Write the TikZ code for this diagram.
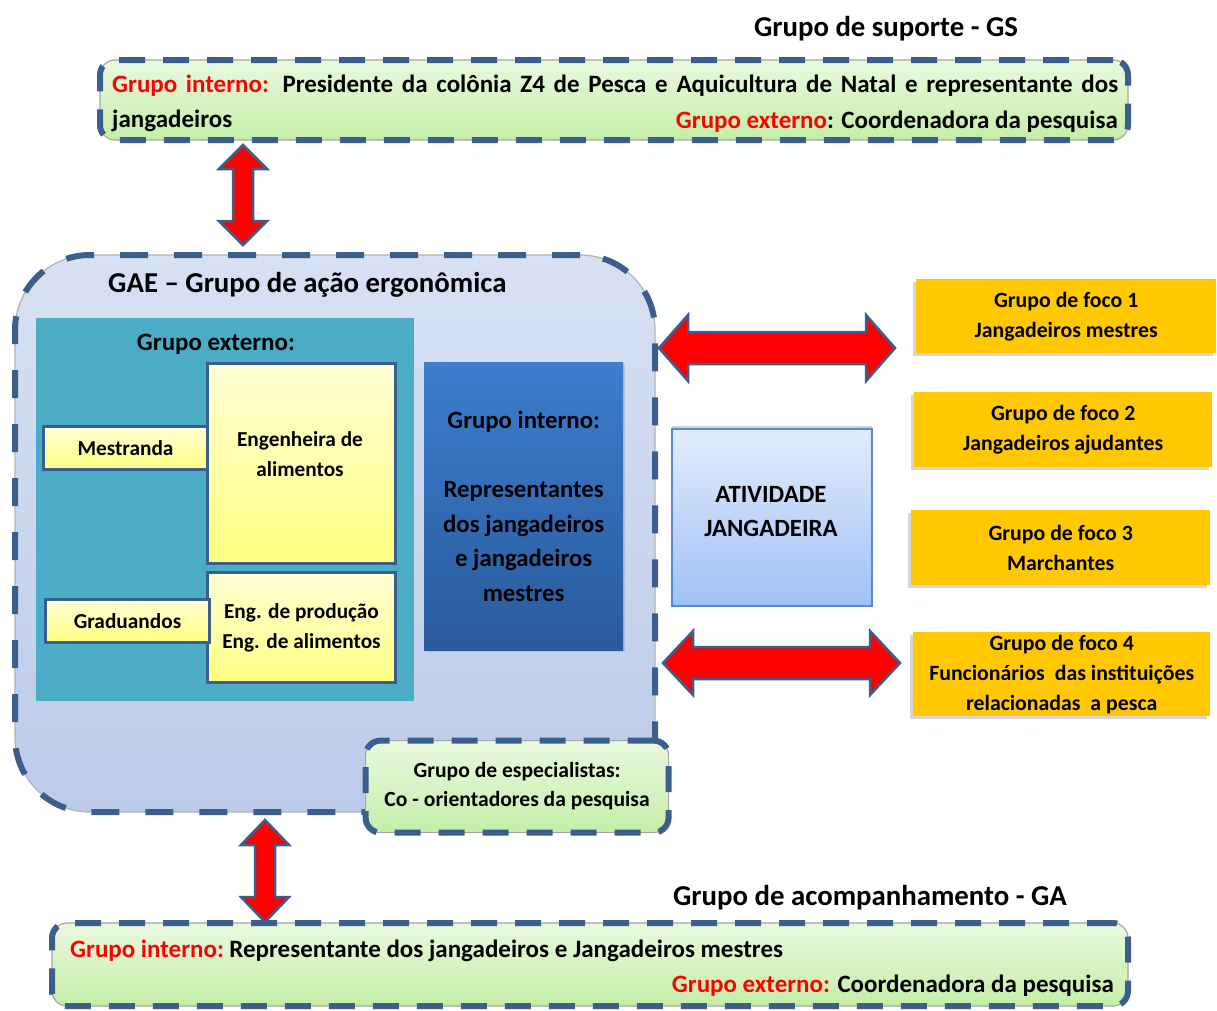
\documentclass[tikz,border=0pt]{standalone}
\usepackage{fontspec}
\setmainfont{Carlito}
\usetikzlibrary{shadows}
\definecolor{bdr}{RGB}{59,94,140}
\definecolor{grnT}{RGB}{234,249,222}
\definecolor{grnB}{RGB}{196,238,168}
\definecolor{gaeT}{RGB}{216,225,243}
\definecolor{gaeB}{RGB}{188,203,234}
\definecolor{tealbg}{RGB}{75,172,198}
\definecolor{ylwT}{RGB}{255,255,214}
\definecolor{ylwB}{RGB}{255,255,128}
\definecolor{bluT}{RGB}{58,126,206}
\definecolor{bluB}{RGB}{42,90,156}
\definecolor{atvT}{RGB}{226,236,252}
\definecolor{atvB}{RGB}{160,193,246}
\definecolor{atvD}{RGB}{88,138,210}
\definecolor{gold}{RGB}{255,200,0}
\definecolor{arrred}{RGB}{255,0,0}
\begin{document}
\begin{tikzpicture}[x=1pt,y=-1pt,
  dashbox/.style={draw=black!35, line width=1.2pt,
    postaction={draw=bdr, line width=6pt, dash pattern=on 26pt off 18pt}},
  gbox/.style={dashbox, top color=grnT, bottom color=grnB, inner sep=0pt},
  gaebox/.style={draw=black!30, line width=1.2pt, top color=gaeT, bottom color=gaeB,
    postaction={draw=bdr, line width=6pt, dash pattern=on 28pt off 26pt}, inner sep=0pt},
  ybox/.style={draw=bdr, line width=3pt, top color=ylwT, bottom color=ylwB,
    anchor=north west, inner sep=0pt, align=center,
    font=\bfseries\fontsize{21.3}{30}\selectfont},
  fbox/.style={fill=gold, anchor=north west, inner sep=0pt, align=center,
    drop shadow={shadow xshift=-3pt, shadow yshift=-3pt, fill=black!40, opacity=.4},
    font=\bfseries\fontsize{21.8}{30}\selectfont},
  txt/.style={inner sep=0pt, font=\bfseries\fontsize{25}{28}\selectfont},
  ttl/.style={inner sep=0pt, anchor=base, font=\bfseries\fontsize{28.8}{32}\selectfont},
  redarrow/.style={fill=arrred, draw=bdr, line width=2.5pt, line join=miter}
]
\useasboundingbox (0,0) rectangle (1217,1010);

% ---------- Grupo de suporte ----------
\node[ttl] (gst) at (886,36) {Grupo de suporte - GS};
\node[gbox, minimum width=1028pt, minimum height=80pt, rounded corners=15pt] (gs) at (614,100) {};
\node[txt, anchor=base west] (gs1) at (112,92)
  {\makebox[1006pt][s]{\textcolor{red}{Grupo interno:} Presidente da colônia Z4 de Pesca e Aquicultura de Natal e representante dos}};
\node[txt, anchor=base west] (gs2) at (112,127) {jangadeiros};
\node[txt, anchor=base east] (gs3) at (1118,128) {\textcolor{red}{Grupo externo}: Coordenadora da pesquisa};

% ---------- Grupo de acompanhamento ----------
\node[ttl] (gat) at (870,905) {Grupo de acompanhamento - GA};
\node[gbox, minimum width=1076pt, minimum height=83pt, rounded corners=15pt] (ga) at (590,964.5) {};
\node[txt, anchor=base west] (ga1) at (70,957) {\textcolor{red}{Grupo interno:}\hspace{-2pt} Representante dos jangadeiros e Jangadeiros mestres};
\node[txt, anchor=base east] (ga2) at (1114,992) {\textcolor{red}{Grupo externo:} Coordenadora da pesquisa};

% ---------- GAE ----------
\node[gaebox, minimum width=640pt, minimum height=557pt, rounded corners=75pt] (gae) at (335,533.5) {};
\node[ttl, anchor=base west] (gaet) at (108,292) {GAE – Grupo de ação ergonômica};

\node[fill=tealbg, anchor=north west, inner sep=0pt, minimum width=378pt, minimum height=383pt] (ext) at (36,318) {};
\node[txt, anchor=base] (extt) at (216,350) {Grupo externo:};

\node[ybox, minimum width=188pt, minimum height=200pt] (eng) at (206,362) {};
\node[inner sep=0pt, align=center, font=\bfseries\fontsize{21.3}{30}\selectfont] (engt) at (300,454) {Engenheira de\\alimentos};
\node[ybox, minimum width=188pt, minimum height=110pt] (prod) at (206,571) {Eng. de produção\\Eng. de alimentos};
\node[ybox, minimum width=164pt, minimum height=43pt] (mest) at (42,425) {Mestranda};
\node[ybox, minimum width=164pt, minimum height=43pt] (grad) at (44,598) {Graduandos};

\node[anchor=north west, inner sep=0pt, minimum width=199pt, minimum height=288pt,
  top color=bluT, bottom color=bluB, align=center,
  drop shadow={shadow xshift=2pt, shadow yshift=-2pt, fill=black!40, opacity=.4},
  font=\bfseries\fontsize{24.8}{34.5}\selectfont] (gi) at (424,362)
  {Grupo interno:\\ \\Representantes\\dos jangadeiros\\e jangadeiros\\mestres};

% ---------- Especialistas ----------
\node[gbox, anchor=north west, minimum width=303pt, minimum height=92pt, rounded corners=15pt,
  align=center, font=\bfseries\fontsize{21.6}{29}\selectfont] (esp) at (365,740)
  {Grupo de especialistas:\\Co - orientadores da pesquisa};

% ---------- Atividade ----------
\node[anchor=north west, inner sep=0pt, minimum width=200pt, minimum height=177pt,
  top color=atvT, bottom color=atvB, draw=atvD, line width=1.5pt,
  drop shadow={shadow xshift=0pt, shadow yshift=3pt, fill=black!50, opacity=.35}] (atv) at (671,428) {};
\node[inner sep=0pt, align=center, font=\bfseries\fontsize{24.8}{34}\selectfont] (atvt) at (771,512)
  {ATIVIDADE\\JANGADEIRA};

% ---------- Grupos de foco ----------
\node[fbox, minimum width=300pt, minimum height=74pt] (f1) at (916,279) {Grupo de foco 1\\Jangadeiros mestres};
\node[fbox, minimum width=298pt, minimum height=75pt] (f2) at (914,392) {Grupo de foco 2\\Jangadeiros ajudantes};
\node[fbox, minimum width=299pt, minimum height=75pt] (f3) at (911,510) {Grupo de foco 3\\Marchantes};
\node[fbox, minimum width=297pt, minimum height=84pt] (f4) at (913,632) {Grupo de foco 4\\Funcionários\ \ das instituições\\relacionadas\ \ a pesca};

% ---------- Setas ----------
\draw[redarrow] (243,145) -- (267,169) -- (253,169) -- (253,221) -- (267,221) -- (243,245)
  -- (219,221) -- (233,221) -- (233,169) -- (219,169) -- cycle;
\draw[redarrow] (265,820) -- (289,845) -- (275,845) -- (275,897) -- (289,897) -- (265,922)
  -- (241,897) -- (255,897) -- (255,845) -- (241,845) -- cycle;
\draw[redarrow] (659,348) -- (688,315) -- (688,332) -- (866,332) -- (866,315) -- (895,348)
  -- (866,381) -- (866,364) -- (688,364) -- (688,381) -- cycle;
\draw[redarrow] (663,663) -- (693,631) -- (693,647) -- (870,647) -- (870,631) -- (900,663)
  -- (870,695) -- (870,679) -- (693,679) -- (693,695) -- cycle;
\end{tikzpicture}
\end{document}
